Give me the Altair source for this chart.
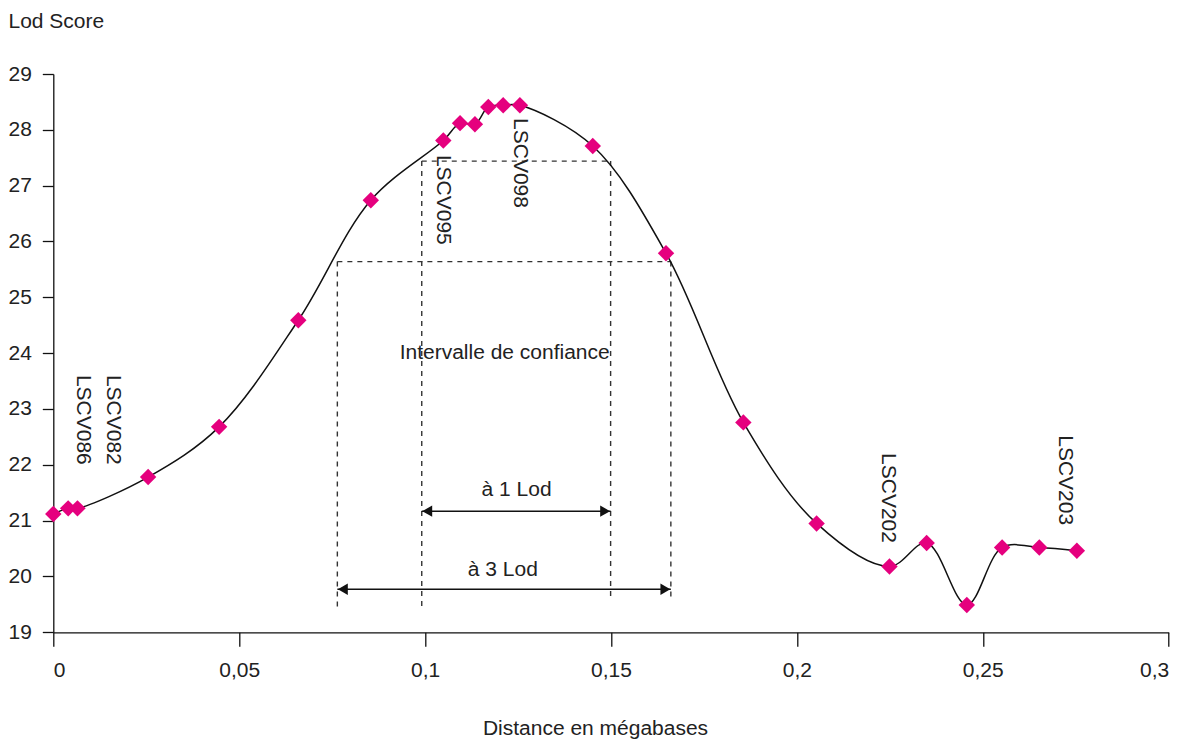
import altair as alt
import pandas as pd

# ---- data ----
dist = [0.0, 0.004, 0.0065, 0.0255, 0.0446, 0.0659, 0.0854, 0.1049, 0.1094, 0.1134,
        0.117, 0.121, 0.1255, 0.1451, 0.1648, 0.1856, 0.2053, 0.2249, 0.2349, 0.2457,
        0.2552, 0.2652, 0.2753]
lod = [21.12, 21.22, 21.22, 21.78, 22.68, 24.59, 26.74, 27.81, 28.12, 28.10,
       28.41, 28.44, 28.44, 27.71, 25.79, 22.76, 20.95, 20.18, 20.60, 19.49,
       20.52, 20.52, 20.46]

marker_names = ["LSCV086", "LSCV082", "LSCV095", "LSCV098", "LSCV202", "LSCV203"]
marker_x = [0.0080, 0.0161, 0.1048, 0.1255, 0.2245, 0.2721]
marker_y = [23.61, 23.61, 27.55, 28.21, 22.21, 22.53]

ci_labels = ["à 1 Lod", "à 3 Lod"]
ci_left = [0.0991, 0.0764]
ci_right = [0.1499, 0.1661]
ci_top = [27.44, 25.64]
ci_bottom_left = [19.46, 19.46]
ci_bottom_right = [19.61, 19.59]
ci_arrow_y = [21.17, 19.77]
ci_text_x = [0.1246, 0.1209]
ci_text_y = [21.55, 20.12]

title_text = ["Intervalle de confiance"]
title_x = [0.1214]
title_y = [24.01]

x_ticks = [0, 0.05, 0.1, 0.15, 0.2, 0.25, 0.3]
y_ticks = list(range(19, 30))

FONT = "Liberation Sans"
FS = 21
MAGENTA = "#E5007E"

# ---- tables ----
pts = pd.DataFrame({"x": dist, "y": lod})

seg_rows = []
for i in range(len(ci_labels)):
    seg_rows.append({"x": ci_left[i], "x2": ci_right[i], "y": ci_top[i], "y2": ci_top[i]})
    seg_rows.append({"x": ci_left[i], "x2": ci_left[i], "y": ci_top[i], "y2": ci_bottom_left[i]})
    seg_rows.append({"x": ci_right[i], "x2": ci_right[i], "y": ci_top[i], "y2": ci_bottom_right[i]})
segs = pd.DataFrame(seg_rows)

arrows = pd.DataFrame({"x": ci_left, "x2": ci_right, "y": ci_arrow_y})
ci_text = pd.DataFrame({"x": ci_text_x, "y": ci_text_y, "t": ci_labels})
markers = pd.DataFrame({"x": marker_x, "y": marker_y, "t": marker_names})
ttl = pd.DataFrame({"x": title_x, "y": title_y, "t": title_text})

xs = alt.Scale(domain=[0, 0.3], nice=False, zero=False)
ys = alt.Scale(domain=[19, 29], nice=False, zero=False)

x_axis = alt.Axis(
    values=x_ticks, tickSize=14, labelPadding=13,
    labelExpr="replace(format(datum.value, '.2~f'), '.', ',')",
    title="Distance en mégabases", titleX=541.7, titleY=102.5,
    titleBaseline="alphabetic", titleAlign="center",
)
y_axis = alt.Axis(
    values=y_ticks, tickSize=11, labelPadding=11,
    title="Lod Score", titleAngle=0, titleAlign="left", titleBaseline="alphabetic",
    titleX=-45.3, titleY=-46.7,
)

base_x = alt.X("x:Q", scale=xs, axis=x_axis)
base_y = alt.Y("y:Q", scale=ys, axis=y_axis)

dashed = alt.Chart(segs).mark_rule(
    color="#333", strokeWidth=1.4, strokeDash=[5, 5]
).encode(x=base_x, x2="x2:Q", y=base_y, y2="y2:Q")

arrow_lines = alt.Chart(arrows).mark_rule(color="#111", strokeWidth=1.5).encode(
    x=alt.X("x:Q", scale=xs), x2="x2:Q", y=alt.Y("y:Q", scale=ys)
)
heads_left = alt.Chart(arrows).mark_point(
    shape="triangle-left", filled=True, size=130, color="#111", opacity=1, xOffset=5.5
).encode(x=alt.X("x:Q", scale=xs), y=alt.Y("y:Q", scale=ys))
heads_right = alt.Chart(arrows).mark_point(
    shape="triangle-right", filled=True, size=130, color="#111", opacity=1, xOffset=-5.5
).encode(x=alt.X("x2:Q", scale=xs), y=alt.Y("y:Q", scale=ys))

curve = alt.Chart(pts).mark_line(
    interpolate="catmull-rom", color="#111", strokeWidth=1.5
).encode(x=alt.X("x:Q", scale=xs), y=alt.Y("y:Q", scale=ys), order="x:Q")

dots = alt.Chart(pts).mark_point(
    shape="diamond", filled=True, size=270, color=MAGENTA, opacity=1
).encode(x=alt.X("x:Q", scale=xs), y=alt.Y("y:Q", scale=ys))

ci_txt = alt.Chart(ci_text).mark_text(
    font=FONT, fontSize=FS, color="#222", align="center", baseline="middle"
).encode(x=alt.X("x:Q", scale=xs), y=alt.Y("y:Q", scale=ys), text="t:N")

marker_txt = alt.Chart(markers).mark_text(
    font=FONT, fontSize=FS, color="#222", align="left", baseline="middle", angle=90
).encode(x=alt.X("x:Q", scale=xs), y=alt.Y("y:Q", scale=ys), text="t:N")

ttl_txt = alt.Chart(ttl).mark_text(
    font=FONT, fontSize=FS, color="#222", align="center", baseline="middle"
).encode(x=alt.X("x:Q", scale=xs), y=alt.Y("y:Q", scale=ys), text="t:N")

chart = alt.layer(
    dashed, arrow_lines, heads_left, heads_right, curve, dots, ci_txt, marker_txt, ttl_txt
).properties(
    width=1115.4, height=558.3,
    padding={"left": 45.3, "top": 66, "right": 11, "bottom": 112},
    autosize=alt.AutoSizeParams(type="none"),
    background="white",
).configure_view(stroke=None).configure_axis(
    grid=False, domainColor="#111", domainWidth=1.3, tickColor="#111", tickWidth=1.3,
    labelFont=FONT, labelFontSize=FS, labelColor="#222",
    titleFont=FONT, titleFontSize=FS, titleColor="#222", titleFontWeight="normal",
)

chart.save("out.html", embed_options={"renderer": "svg", "actions": False})
